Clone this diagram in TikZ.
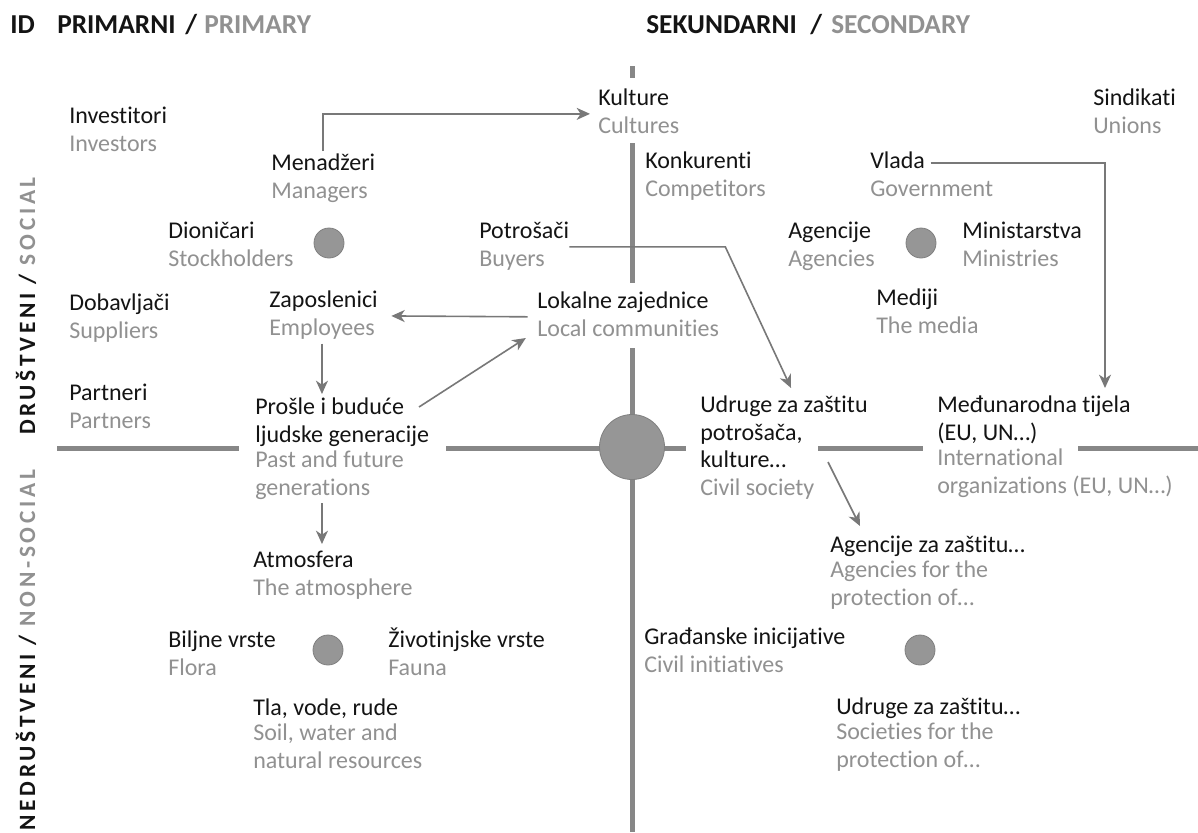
\documentclass[tikz,border=0pt]{standalone}
\usepackage{fontspec}
\setmainfont{Carlito}[Ligatures=NoCommon]
\newfontfamily\sidefont[LetterSpace=16]{Carlito}
\usepackage{tikz}
\usetikzlibrary{arrows.meta,calc}

\definecolor{ink}{RGB}{20,20,20}
\definecolor{engtxt}{RGB}{145,145,145}
\definecolor{axisgray}{RGB}{135,135,135}
\definecolor{arrgray}{RGB}{120,120,120}
\definecolor{dotgray}{RGB}{150,150,150}

\begin{document}
\begin{tikzpicture}[x=0.75pt,y=0.75pt,yscale=-1,xscale=1,
  nm/.style={anchor=north west,inner sep=0pt,align=left,text=ink,font=\fontsize{18}{20.5}\selectfont,execute at begin node=\strut,execute at end node=\strut},
  en/.style={nm,text=engtxt},
  hdr/.style={anchor=base west,inner sep=0pt,text=ink,font=\fontsize{20.5}{24}\selectfont\bfseries},
  side/.style={inner sep=0pt,rotate=90,text=ink,font=\sidefont\bfseries\fontsize{17.5}{21}\selectfont},
  axis/.style={draw=axisgray,line width=3.75pt},
  arr/.style={draw=arrgray,line width=1.2pt,-{Stealth[length=10pt,width=9pt,inset=3pt]}},
  dot/.style={circle,fill=dotgray,draw=dotgray!85!black,line width=0.6pt,inner sep=0pt,minimum size=22.5pt}
]
%uncomment if require: \path (0,832); %set diagram left start at 0, and has height of 832
\fill[white] (0,0) rectangle (1198,832);
\useasboundingbox (0,0) rectangle (1198,832);

%Straight Lines (axes)
\draw[axis] (632,66) -- (632,78);
\draw[axis] (632,143) -- (632,283);
\draw[axis] (632,348) -- (632,832);
\draw[axis] (57,448) -- (239,448);
\draw[axis] (446,448) -- (686,448);
\draw[axis] (818,448) -- (923,448);
\draw[axis] (1078,448) -- (1198,448);

%Shape: Circle
\draw (632,447) node [dot,minimum size=48.75pt] (core) {};
\draw (329,243) node [dot] (dotsoc) {};
\draw (921,243) node [dot] (dotgov) {};
\draw (328,650) node [dot] (dotnat) {};
\draw (920,650) node [dot] (dotciv) {};

% Text Node (headers)
\draw (10,33) node [hdr] (hdrid) {ID};
\draw (57,33) node [hdr] (hdrprim) {PRIMARNI};
\draw (185,33) node [hdr] (hdrslashp) {/};
\draw (204,33) node [hdr,text=engtxt] (hdrprimeng) {PRIMARY};
\draw (646,33) node [hdr] (hdrsek) {SEKUNDARNI};
\draw (810,33) node [hdr] (hdrslashs) {/};
\draw (831,33) node [hdr,text=engtxt] (hdrsekeng) {SECONDARY};
% Text Node (side)
\draw (26,306) node [side] (sidesoc) {DRUŠTVENI / \textcolor{engtxt}{SOCIAL}};
\draw (26,650) node [side] (sidenonsoc) {NEDRUŠTVENI / \textcolor{engtxt}{NON-SOCIAL}};

% Text Node
\draw (69,104) node [nm] (investitori) {Investitori};
\draw (investitori.south west) node [en] (investitorieng) {Investors};
% Text Node
\draw (598,86) node [nm] (kulture) {Kulture};
\draw (kulture.south west) node [en] (kultureeng) {Cultures};
% Text Node
\draw (1093,86) node [nm] (sindikati) {Sindikati};
\draw (sindikati.south west) node [en] (sindikatieng) {Unions};
% Text Node
\draw (271,151) node [nm] (menadzeri) {Menadžeri};
\draw (menadzeri.south west) node [en] (menadzerieng) {Managers};
% Text Node
\draw (645,149) node [nm] (konkurenti) {Konkurenti};
\draw (konkurenti.south west) node [en] (konkurentieng) {Competitors};
% Text Node
\draw (870,149) node [nm] (vlada) {Vlada};
\draw (vlada.south west) node [en] (vladaeng) {Government};
% Text Node
\draw (168,219) node [nm] (dionicari) {Dioničari};
\draw (dionicari.south west) node [en] (dionicarieng) {Stockholders};
% Text Node
\draw (479,219) node [nm] (potrosaci) {Potrošači};
\draw (potrosaci.south west) node [en] (potrosacieng) {Buyers};
% Text Node
\draw (788,219) node [nm] (agencije) {Agencije};
\draw (agencije.south west) node [en] (agencijeeng) {Agencies};
% Text Node
\draw (962,219) node [nm] (ministarstva) {Ministarstva};
\draw (ministarstva.south west) node [en] (ministarstvaeng) {Ministries};
% Text Node
\draw (69,291) node [nm] (dobavljaci) {Dobavljači};
\draw (dobavljaci.south west) node [en] (dobavljacieng) {Suppliers};
% Text Node
\draw (269,288) node [nm] (zaposlenici) {Zaposlenici};
\draw (zaposlenici.south west) node [en] (zapeng) {Employees};
% Text Node
\draw (537,289) node [nm] (lokalne) {Lokalne zajednice};
\draw (lokalne.south west) node [en] (lokalneeng) {Local communities};
% Text Node
\draw (876,286) node [nm] (mediji) {Mediji};
\draw (mediji.south west) node [en] (medijieng) {The media};
% Text Node
\draw (69,381) node [nm] (partneri) {Partneri};
\draw (partneri.south west) node [en] (partnerieng) {Partners};
% Text Node
\draw (255,398) node [nm] (prosle) {Prošle i buduće\\ljudske generacije};
\draw (prosle.south west) node [en] (prosleeng) {Past and future\\generations};
% Text Node
\draw (700,396) node [nm] (udruge) {Udruge za zaštitu\\potrošača,\\kulture…};
\draw (udruge.south west) node [en] (udrugeeng) {Civil society};
% Text Node
\draw (937,396) node [nm] (medjunarodna) {Međunarodna tijela\\(EU, UN…)};
\draw (medjunarodna.south west) node [en] (medjunarodnaeng) {International\\organizations (EU, UN…)};
% Text Node
\draw (253,548) node [nm] (atmosfera) {Atmosfera};
\draw (atmosfera.south west) node [en] (atmosferaeng) {The atmosphere};
% Text Node
\draw (830,533) node [nm] (agzastitu) {Agencije za zaštitu…};
\draw (agzastitu.south west) node [en] (agzastitueng) {Agencies for the\\protection of…};
% Text Node
\draw (168,628) node [nm] (biljne) {Biljne vrste};
\draw (biljne.south west) node [en] (biljneeng) {Flora};
% Text Node
\draw (388,628) node [nm] (zivotinjske) {Životinjske vrste};
\draw (zivotinjske.south west) node [en] (zivotinjskeeng) {Fauna};
% Text Node
\draw (644,625) node [nm] (gradjanske) {Građanske inicijative};
\draw (gradjanske.south west) node [en] (gradjanskeeng) {Civil initiatives};
% Text Node
\draw (253,696) node [nm] (tla) {Tla, vode, rude};
\draw (tla.south west) node [en] (tlaeng) {Soil, water and\\natural resources};
% Text Node
\draw (836,695) node [nm] (udrugezastitu) {Udruge za zaštitu…};
\draw (udrugezastitu.south west) node [en] (udrugezastitueng) {Societies for the\\protection of…};

%Straight Lines (arrows)
\draw[arr,shorten >=6pt] (menadzeri.north) |- (kulture.south west);
\draw[arr,shorten <=4pt] (vlada.east) -| ($(medjunarodna.north west)+(168,-8)$);
\draw[arr] (potrosaci.south east) -- ++(156,0) -- ($(udruge.north west)+(91,-8)$);
\draw[arr,shorten <=7pt,shorten >=10pt] (lokalne.south west) -- (zaposlenici.south east);
\draw[arr,shorten >=3pt] (zapeng.south) -- (zapeng.south |- prosle.north);
\draw[arr,shorten >=10pt] ($(prosle.north west)+(164,9)$) -- (lokalneeng.west);
\draw[arr,shorten >=3pt] (zapeng.south |- prosleeng.south) -- (zapeng.south |- atmosfera.north);
\draw[arr] ($(udruge.north west)+(128,66)$) -- ($(agzastitu.north west)+(30,-7)$);

\end{tikzpicture}
\end{document}
